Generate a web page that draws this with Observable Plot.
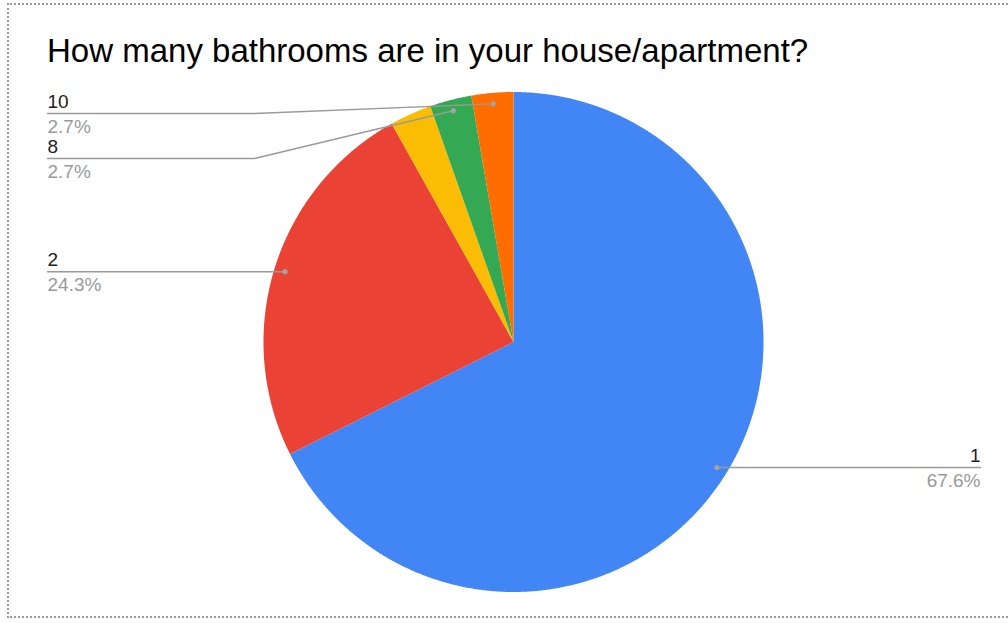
<!DOCTYPE html>
<html><head><meta charset="utf-8">
<script src="https://cdn.jsdelivr.net/npm/d3@7"></script>
<script src="https://cdn.jsdelivr.net/npm/@observablehq/plot@0.6"></script>
<style>
html,body{margin:0;padding:0;background:#fff;}
#frame{position:absolute;left:7px;top:3px;width:1020px;height:615px;border:2px dotted #9a9a9a;border-right:none;box-sizing:border-box;}
#title{position:absolute;left:47px;top:34px;font:33px "Liberation Sans",Arial,sans-serif;line-height:1;color:#000;white-space:nowrap;}
#chart{position:absolute;left:0;top:80px;}
</style></head><body>
<div id="frame"></div>
<div id="title">How many bathrooms are in your house/apartment?</div>
<div id="chart"></div>
<script>
// Data
const categories = ["1", "2", "3", "8", "10"];
const percents = [67.6, 24.3, 2.7, 2.7, 2.7];
const colors = ["#4285F4", "#EA4335", "#FBBC04", "#34A853", "#FF6D01"];
const labeledCategories = ["1", "2", "8", "10"]; // yellow slice label is hidden in the reference

// Layout (unit-circle coordinates)
const R = 1, rDot = 0.956, labelTop = 0.914, labelGap = 0.18;
const leftEndX = -1.864, rightEndX = 1.868, elbowX = -1.036;

const arcs = d3.pie().sort(null).value(d => d)(percents);

// slice polygons
const slicePts = [];
arcs.forEach((a, i) => {
  const cat = categories[i];
  slicePts.push({cat, x: 0, y: 0});
  const n = Math.max(4, Math.ceil((a.endAngle - a.startAngle) / 0.005));
  for (let k = 0; k <= n; k++) {
    const t = a.startAngle + (a.endAngle - a.startAngle) * k / n;
    slicePts.push({cat, x: R * Math.sin(t), y: R * Math.cos(t)});
  }
  slicePts.push({cat, x: 0, y: 0});
});

// labels
const labels = arcs.map((a, i) => {
  const mid = (a.startAngle + a.endAngle) / 2;
  return {cat: categories[i], pct: percents[i], dx: rDot * Math.sin(mid), dy: rDot * Math.cos(mid)};
}).filter(d => labeledCategories.includes(d.cat));

const left = labels.filter(d => d.dx < 0).sort((a, b) => b.dy - a.dy);
const right = labels.filter(d => d.dx >= 0).sort((a, b) => b.dy - a.dy);
let prev = labelTop + labelGap;
for (const d of left) { d.ly = Math.min(d.dy, prev - labelGap); prev = d.ly; d.tx = leftEndX; }
prev = labelTop + labelGap;
for (const d of right) { d.ly = Math.min(d.dy, prev - labelGap); prev = d.ly; d.tx = rightEndX; }

const leaderPts = [];
for (const d of labels) {
  leaderPts.push({cat: d.cat, x: d.tx, y: d.ly});
  if (Math.abs(d.ly - d.dy) > 1e-6) leaderPts.push({cat: d.cat, x: elbowX, y: d.ly});
  leaderPts.push({cat: d.cat, x: d.dx, y: d.dy});
}

const font = '"Liberation Sans", Arial, sans-serif';
const fs = 19;
const labelMarks = (data, anchor) => [
  Plot.text(data, {x: "tx", y: "ly", text: "cat", textAnchor: anchor,
    lineAnchor: "bottom", dy: -6, fontSize: fs, fill: "#222", fontFamily: font}),
  Plot.text(data, {x: "tx", y: "ly", text: d => d.pct.toFixed(1) + "%", textAnchor: anchor,
    lineAnchor: "bottom", dy: 19, fontSize: fs, fill: "#9a9a9a", fontFamily: font})
];

const chart = Plot.plot({
  width: 1008,
  height: 543,
  x: {domain: [-1, 1], range: [263, 763], axis: null},
  y: {domain: [-1, 1], range: [511.5, 11.5], axis: null},
  color: {domain: categories, range: colors},
  style: {background: "transparent", overflow: "visible", fontFamily: font},
  marks: [
    Plot.line(slicePts, {x: "x", y: "y", z: "cat", fill: "cat", stroke: "none", curve: "linear"}),
    Plot.line(leaderPts, {x: "x", y: "y", z: "cat", stroke: "#9a9a9a", strokeWidth: 1.4, curve: "linear"}),
    Plot.dot(labels, {x: "dx", y: "dy", r: 2.6, fill: "#a3a3a3", stroke: "none"}),
    ...labelMarks(left, "start"),
    ...labelMarks(right, "end")
  ]
});
document.getElementById("chart").appendChild(chart);
</script>
</body></html>
